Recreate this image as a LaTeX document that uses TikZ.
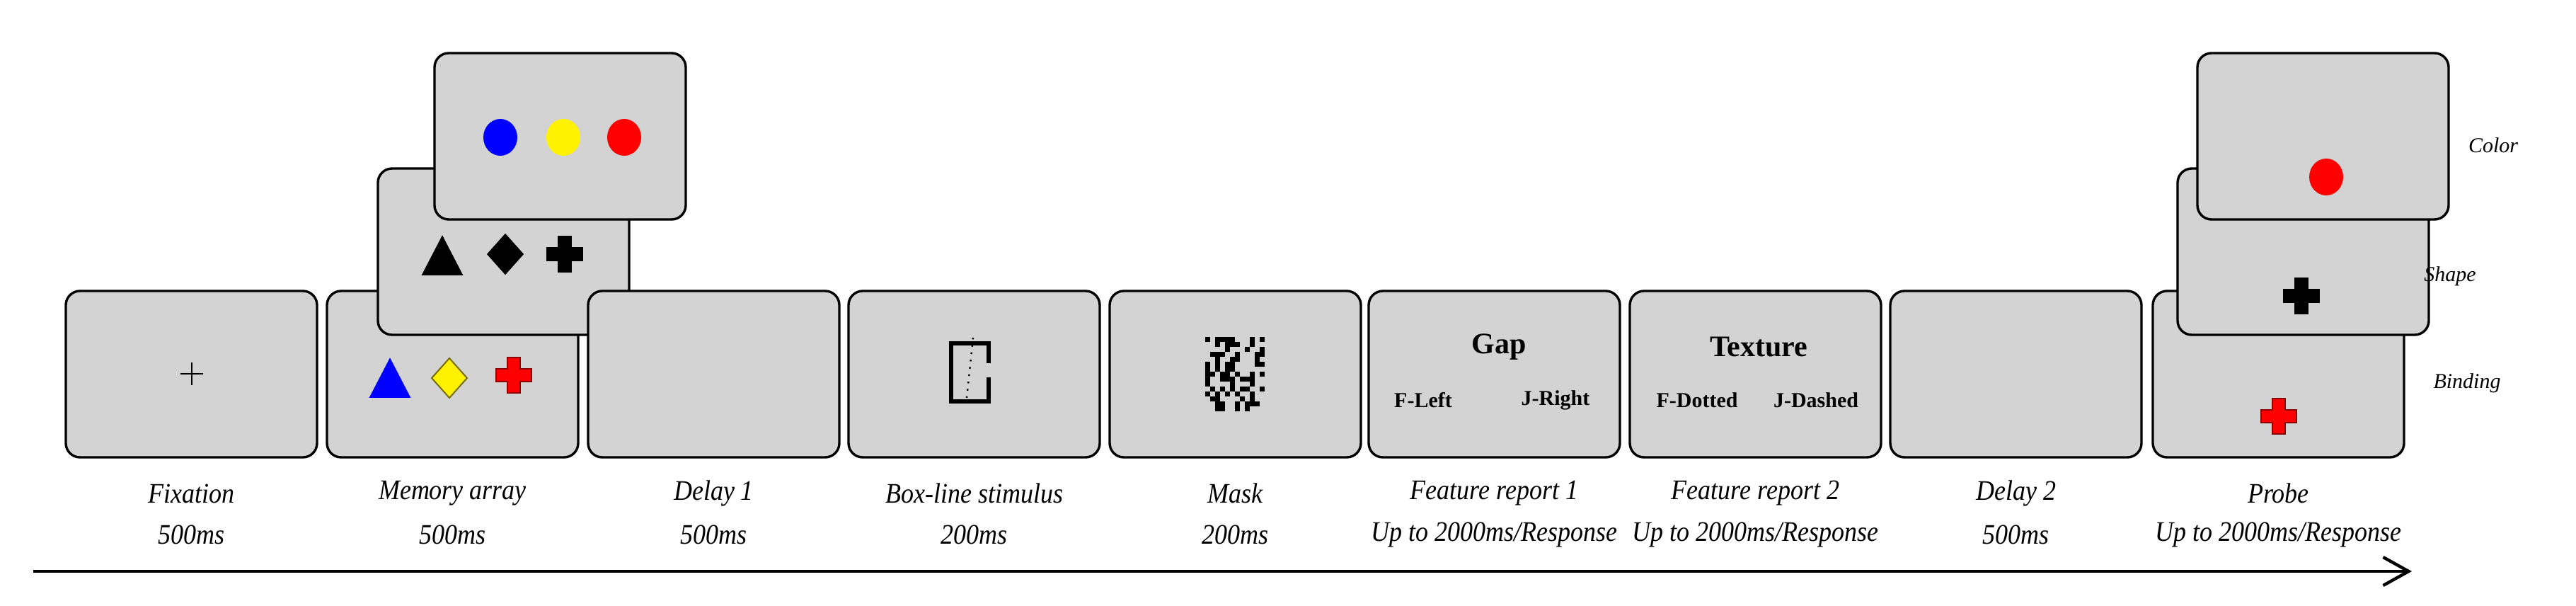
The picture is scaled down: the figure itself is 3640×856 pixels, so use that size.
\documentclass[tikz,border=0pt]{standalone}
\usepackage{fontspec}
\setmainfont{Liberation Serif}
\newfontfamily\labfont[FakeStretch=0.9]{Liberation Serif}
\usetikzlibrary{arrows.meta}
\definecolor{scr}{RGB}{211,211,211}
\definecolor{dyel}{RGB}{120,110,0}
\definecolor{dred}{RGB}{140,0,0}
\tikzset{
 scrbox/.style={fill=scr,draw=black,line width=0.85pt,rounded corners=5pt},
 lab/.style={font=\labfont\fontsize{10}{11}\selectfont\itshape,anchor=center},
 side/.style={font=\fontsize{7.5}{9}\selectfont\itshape,anchor=center},
 btitle/.style={font=\fontsize{10.5}{12}\selectfont\bfseries},
 bkey/.style={font=\fontsize{7.5}{9}\selectfont\bfseries},
 crossp/.pic={\filldraw[pic actions] (-9,-25) -- (9,-25) -- (9,-9) -- (25,-9) -- (25,9) -- (9,9) -- (9,25) -- (-9,25) -- (-9,9) -- (-25,9) -- (-25,-9) -- (-9,-9) -- cycle;},
 trip/.pic={\filldraw[pic actions] (0,-27) -- (28,27) -- (-28,27) -- cycle;},
 diap/.pic={\filldraw[pic actions] (0,-28) -- (25,0) -- (0,28) -- (-25,0) -- cycle;},
 blob/.pic={\fill[pic actions] (0,0) ellipse (24 and 26);}
}
\newcommand{\scrn}[2]{\draw[scrbox] (#1,#2) rectangle ++(355,235);}
\begin{document}
\begin{tikzpicture}[x=0.25pt,y=-0.25pt]
\useasboundingbox (0,0) rectangle (3640,856);
\def\by{411}
% Fixation
\scrn{93}{\by}
\draw[line width=0.5pt] (270.5,512) -- (270.5,544) (254.5,528) -- (286.5,528);
% Memory array
\scrn{462}{\by}
\pic[fill=blue,draw=blue] at (551,534) {trip};
\pic[fill=yellow,draw=dyel,line width=0.5pt] at (635,534) {diap};
\pic[fill=red,draw=dred,line width=0.5pt] at (726,530) {crossp};
\scrn{534}{238}
\pic[fill=black] at (625,361) {trip};
\pic[fill=black] at (714,359) {diap};
\pic[fill=black] at (798,359) {crossp};
\scrn{614}{75}
\pic[fill=blue] at (707,194) {blob};
\pic[fill=yellow] at (796,194) {blob};
\pic[fill=red] at (882,194) {blob};
% Delay 1
\scrn{831}{\by}
% Box-line
\scrn{1199}{\by}
\draw[line width=1.6pt] (1397,513) -- (1397,485) -- (1344,485) -- (1344,567) -- (1397,567) -- (1397,533);
\draw[line width=0.6pt,dotted] (1375,477) -- (1366,562);
% Mask
\scrn{1568}{\by}
\pgfmathsetseed{7}
\foreach \i in {0,...,11}{\foreach \j in {0,...,14}{
 \pgfmathsetmacro\rr{rnd}
 \ifdim\rr pt>0.52pt \fill (1703+7*\i,476+7*\j) rectangle ++(7,7); \fi}}
% Feature report 1
\scrn{1934}{\by}
\node[btitle] (gap) at (2118,490) {Gap};
\node[bkey] (fl) at (2011,565) {F-Left};
\node[bkey] (jr) at (2198,565) {J-Right};
% Feature report 2
\scrn{2303}{\by}
\node[btitle] (tex) at (2485,490) {Texture};
\node[bkey] (fd) at (2398,565) {F-Dotted};
\node[bkey] (jd) at (2566,565) {J-Dashed};
% Delay 2
\scrn{2671}{\by}
% Probe
\scrn{3042}{\by}
\pic[fill=red,draw=dred,line width=0.5pt] at (3220,588) {crossp};
\scrn{3077}{238}
\pic[fill=black] at (3252,418) {crossp};
\scrn{3105}{75}
\pic[fill=red] at (3287,250) {blob};
\node[side] (cl) at (3523,205) {Color};
\node[side] (sl) at (3462,390) {Shape};
\node[side] (bl) at (3486,541) {Binding};
% labels
\foreach \x/\a/\b [count=\k] in {270.5/Fixation/500ms, 639.5/Memory array/500ms, 1008.5/Delay 1/500ms, 1376.5/Box-line stimulus/200ms, 1745.5/Mask/200ms, 2111.5/Feature report 1/Up to 2000ms\slash Response, 2480.5/Feature report 2/Up to 2000ms\slash Response, 2848.5/Delay 2/500ms, 3219.5/Probe/Up to 2000ms\slash Response}{
 \node[lab] (t\k) at (\x,697) {\a};
 \node[lab] (d\k) at (\x,755) {\b};
}
% time arrow
\coordinate (as) at (47,807);
\coordinate (ae) at (3408,807);
\draw[line width=1.1pt,-{Straight Barb[length=9pt,width=10pt,line width=1.1pt]}] (as) -- (ae);
\end{tikzpicture}
\end{document}
